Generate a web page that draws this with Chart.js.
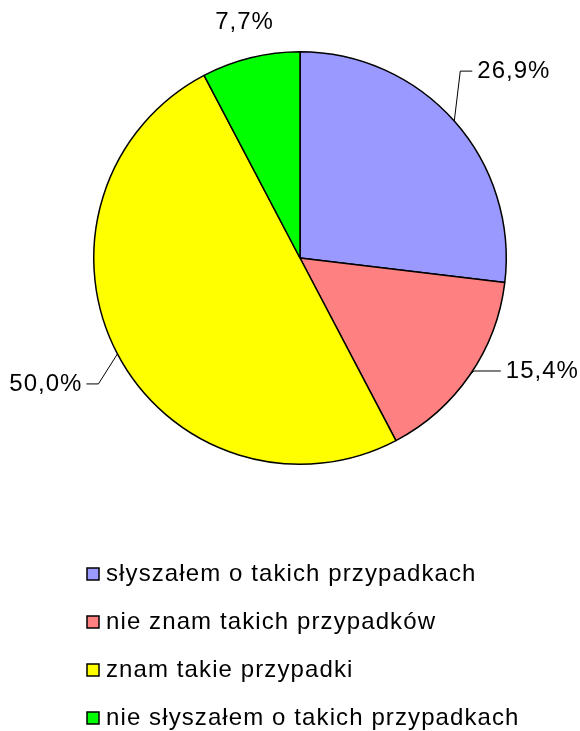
<!DOCTYPE html>
<html>
<head>
<meta charset="utf-8">
<script src="https://cdn.jsdelivr.net/npm/chart.js@4"></script>
<style>
  html, body { margin: 0; padding: 0; background: #fff; }
  #wrap { width: 580px; height: 731px; position: relative; }
</style>
</head>
<body>
<div id="wrap"><canvas id="pie"></canvas></div>
<script>
// chart data
const categories = [
  'słyszałem o takich przypadkach',
  'nie znam takich przypadków',
  'znam takie przypadki',
  'nie słyszałem o takich przypadkach'
];
const values = [26.9, 15.4, 50.0, 7.7];
const colors = ['#9999FF', '#FF8080', '#FFFF00', '#00FF00'];

// where each percentage label sits relative to its slice edge
const labelLayout = [
  { dx: 6, dy: -50, run: 12, line: true },
  { dx: 4, dy: -4, run: 27, line: true },
  { dx: -19, dy: 30, run: -12, line: true },
  { dx: -6, dy: -35, run: 0, line: false }
];

const FONT = '"Liberation Sans", Arial, sans-serif';
const fmt = v => v.toFixed(1).replace('.', ',') + '%';

const pieLabels = {
  id: 'pieLabels',
  afterDatasetsDraw(chart) {
    const ctx = chart.ctx;
    const meta = chart.getDatasetMeta(0);
    ctx.save();
    ctx.font = '24px ' + FONT;
    ctx.letterSpacing = '1px';
    ctx.fillStyle = '#000';
    ctx.strokeStyle = '#000';
    ctx.lineWidth = 1;
    meta.data.forEach((arc, i) => {
      const p = arc.getProps(['x', 'y', 'startAngle', 'endAngle', 'outerRadius'], true);
      const mid = (p.startAngle + p.endAngle) / 2;
      const ex = p.x + Math.cos(mid) * p.outerRadius;
      const ey = p.y + Math.sin(mid) * p.outerRadius;
      const L = labelLayout[i];
      const bx = ex + L.dx, by = ey + L.dy;
      const tx = bx + L.run;
      if (L.line) {
        ctx.beginPath();
        ctx.moveTo(ex, ey);
        ctx.lineTo(bx, by);
        ctx.lineTo(tx, by);
        ctx.stroke();
      }
      ctx.textBaseline = 'middle';
      if (!L.line) {
        ctx.textAlign = 'center';
        ctx.fillText(fmt(values[i]), tx, by);
      } else if (L.run >= 0) {
        ctx.textAlign = 'left';
        ctx.fillText(fmt(values[i]), tx + 5, by);
      } else {
        ctx.textAlign = 'right';
        ctx.fillText(fmt(values[i]), tx - 4, by);
      }
    });
    ctx.restore();
  }
};

const listLegend = {
  id: 'listLegend',
  afterDraw(chart) {
    const ctx = chart.ctx;
    ctx.save();
    ctx.font = '24px ' + FONT;
    ctx.letterSpacing = '1.1px';
    ctx.textBaseline = 'middle';
    ctx.textAlign = 'left';
    categories.forEach((name, i) => {
      const y = 574 + i * 48;
      ctx.fillStyle = colors[i];
      ctx.fillRect(87, y - 6, 12, 12);
      ctx.strokeStyle = '#000';
      ctx.lineWidth = 1.5;
      ctx.strokeRect(87, y - 6, 12, 12);
      ctx.fillStyle = '#000';
      ctx.fillText(name, 106, y);
    });
    ctx.restore();
  }
};

new Chart(document.getElementById('pie'), {
  type: 'pie',
  data: {
    labels: categories,
    datasets: [{
      data: values,
      backgroundColor: colors,
      borderColor: '#000',
      borderWidth: 1.5,
      hoverOffset: 0
    }]
  },
  options: {
    responsive: true,
    maintainAspectRatio: false,
    animation: false,
    layout: { padding: { left: 93, right: 73, top: 51, bottom: 266 } },
    plugins: {
      legend: { display: false },
      tooltip: { enabled: false }
    }
  },
  plugins: [pieLabels, listLegend]
});
</script>
</body>
</html>
